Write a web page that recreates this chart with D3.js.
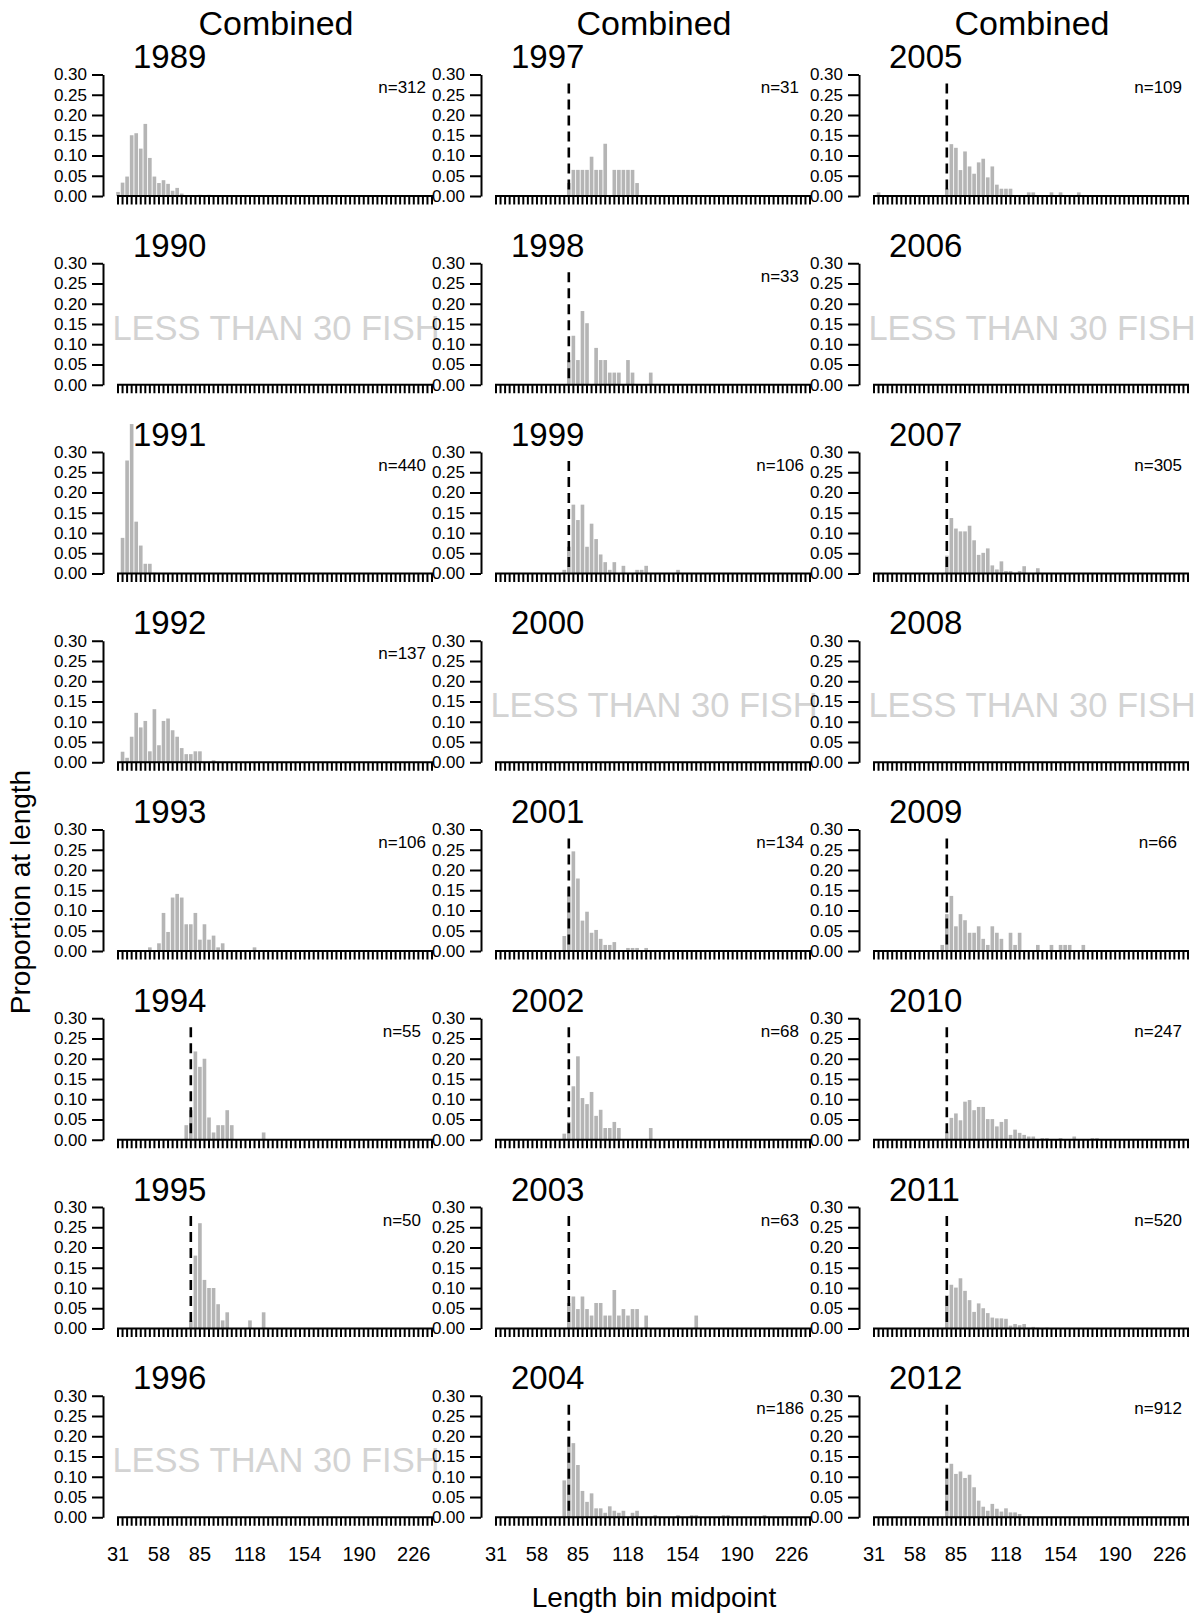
<!DOCTYPE html>
<html><head><meta charset="utf-8">
<script src="https://cdn.jsdelivr.net/npm/d3@7"></script>
<style>body{margin:0;background:#fff} svg{display:block}</style>
</head><body>
<svg id="c" width="1203" height="1619"></svg>
<script>
// ---------- DATA ----------
const bins = [31,34,37,40,43,46,49,52,55,58,61,64,67,70,73,76,79,82,85,88,91,94,97,100,103,106,109,112,115,118,
  121,124,127,130,133,136,139,142,145,148,151,154,157,160,163,166,169,172,175,178,181,184,187,190,193,196,199,202,205,208,
  211,214,217,220,223,226,229,232,235,238];
const xTickLabels = [31,58,85,118,154,190,226];
const yTicks = [0,0.05,0.10,0.15,0.20,0.25,0.30];
const years = [1989,1990,1991,1992,1993,1994,1995,1996,1997,1998,1999,2000,2001,2002,2003,2004,2005,2006,2007,2008,2009,2010,2011,2012];
const sampleN = [312,null,440,137,106,55,50,null,31,33,106,null,134,68,63,186,109,null,305,null,66,247,520,912];
const dashedYears = [1994,1995,1997,1998,1999,2001,2002,2003,2004,2005,2007,2009,2010,2011,2012];
const refLength = 79;
const columnTitle = "Combined";
const lessText = "LESS THAN 30 FISH";

// proportions by bin (index 0 = 31), trailing zeros omitted
const p1989 = [0.010,0.033,0.048,0.150,0.155,0.117,0.178,0.094,0.048,0.032, 0.039,0.030,0.013,0.020,0.006,0,0,0,0.003,0, 0.003];
const p1991 = [0,0.088,0.279,0.369,0.128,0.069,0.024,0.024,0.002];
const p1992 = [0,0.026,0.011,0.063,0.122,0.086,0.102,0.027,0.131,0.042, 0.102,0.108,0.079,0.063,0.035,0.020,0.020,0.027,0.027,0, 0,0.005];
const p1993 = [0,0,0,0,0,0,0,0.009,0,0.019, 0.094,0.047,0.132,0.141,0.132,0.066,0.066,0.094,0.028,0.066, 0.028,0.038,0.009,0.019,0,0,0,0,0,0, 0.009];
const p1994 = [0,0,0,0,0,0,0,0,0,0, 0,0,0,0,0,0.036,0.073,0.218,0.180,0.200, 0.055,0.018,0.036,0.036,0.073,0.036,0,0,0,0, 0,0,0.018];
const p1995 = [0,0,0,0,0,0,0,0,0,0, 0,0,0,0,0,0,0.020,0.180,0.260,0.120, 0.100,0.100,0.060,0.020,0.040,0,0,0,0,0.020, 0,0,0.040];
const p1997 = [0,0,0,0,0,0,0,0,0,0, 0,0,0,0,0,0,0.032,0.0645,0.0645,0.0645, 0.0645,0.097,0.0645,0.0645,0.129,0,0.0645,0.0645,0.0645,0.0645, 0.0645,0.032];
const p1998 = [0,0,0,0,0,0,0,0,0,0, 0,0,0,0,0,0,0.061,0.121,0.061,0.182, 0.152,0,0.091,0.061,0.061,0.030,0.030,0.030,0,0.061, 0.030,0,0,0,0.030];
const p1999 = [0,0,0,0,0,0,0,0,0,0, 0,0,0,0,0,0.009,0.066,0.170,0.132,0.170, 0.066,0.123,0.085,0.047,0.028,0.009,0.028,0,0.019,0, 0,0.009,0.009,0.019,0,0,0,0,0,0, 0.009];
const p2001 = [0,0,0,0,0,0,0,0,0,0, 0,0,0,0,0,0.037,0.157,0.246,0.179,0.075, 0.097,0.045,0.052,0.030,0.015,0.015,0.022,0,0,0.0075, 0.0075,0.0075,0,0.0075];
const p2002 = [0,0,0,0,0,0,0,0,0,0, 0,0,0,0,0,0.015,0.044,0.132,0.206,0.103, 0.088,0.118,0.059,0.074,0.029,0.029,0.044,0.029,0,0, 0,0,0,0,0.029];
const p2003 = [0,0,0,0,0,0,0,0,0,0, 0,0,0,0,0,0,0.063,0.079,0.048,0.079, 0.048,0.032,0.063,0.063,0.032,0.032,0.095,0.032,0.048,0.032, 0.048,0.048,0,0.032,0,0,0,0,0,0, 0,0,0,0,0.032];
const p2004 = [0,0,0,0,0,0,0,0,0,0, 0,0,0,0,0,0.091,0.199,0.183,0.129,0.065, 0.038,0.059,0.022,0.022,0.011,0.027,0.016,0.011,0.016,0, 0.011,0.016,0,0,0,0.005,0,0,0,0, 0.005,0,0,0.005,0.005,0,0,0,0,0, 0.005,0.005,0,0,0,0,0,0,0,0.005];
const p2005 = [0,0.009,0,0,0,0,0,0,0,0, 0,0,0,0,0,0,0.018,0.128,0.119,0.064, 0.110,0.073,0.055,0.083,0.092,0.046,0.073,0.028,0.018,0.018, 0.018,0,0,0,0.009,0.009,0,0,0,0.009, 0,0.009,0,0,0,0.009];
const p2007 = [0,0,0,0,0,0,0,0,0,0, 0,0,0,0,0,0,0.044,0.137,0.111,0.104, 0.104,0.118,0.082,0.046,0.051,0.062,0.020,0.010,0.030,0.006, 0.006,0,0.006,0.018,0,0,0.013];
const p2009 = [0,0,0,0,0,0,0,0,0,0, 0,0,0,0,0,0.015,0.091,0.136,0.061,0.091, 0.076,0.045,0.045,0.061,0.030,0.015,0.061,0.045,0.030,0, 0.045,0.015,0.045,0,0,0,0.015,0,0,0.015, 0,0.015,0.015,0.015,0,0,0.015];
const p2010 = [0,0,0,0,0,0,0,0,0,0, 0,0,0,0,0,0,0.020,0.054,0.065,0.048, 0.094,0.098,0.073,0.081,0.081,0.051,0.051,0.033,0.044,0.051, 0.012,0.025,0.017,0.012,0.008,0.008,0,0.004,0.004,0, 0,0.004,0,0,0.008,0,0,0,0.004,0.004];
const p2011 = [0,0,0,0,0,0,0,0,0,0, 0,0,0,0,0,0,0.082,0.108,0.101,0.124, 0.093,0.070,0.041,0.062,0.050,0.038,0.027,0.025,0.025,0.024, 0.007,0.011,0.008,0.011,0.002,0.004,0.002,0,0.002];
const p2012 = [0,0,0,0,0,0,0,0,0,0, 0,0,0,0,0,0,0.122,0.132,0.107,0.113, 0.097,0.105,0.074,0.041,0.026,0.016,0.033,0.021,0.014,0.022, 0.012,0.012,0.008,0.002,0.003,0.002,0.001,0.001,0.001,0.001, 0.001];

const proportions = [p1989,null,p1991,p1992,p1993,p1994,p1995,null,p1997,p1998,p1999,null,p2001,p2002,p2003,p2004,p2005,null,p2007,null,p2009,p2010,p2011,p2012];

// ---------- DRAW ----------
const FONT = "'Liberation Sans', Arial, Helvetica, sans-serif";
const svg = d3.select("#c");
const COLW = 378, ROWH = 188.75, BASE0 = 196, NROW = 8;

for (let c = 0; c < 3; c++) {
  svg.append("text").attr("x", c*COLW + 276).attr("y", 35)
    .attr("text-anchor","middle").attr("font-family",FONT).attr("font-size",34)
    .text(columnTitle);
}

years.forEach((yr, i) => {
  const col = Math.floor(i / NROW), row = i % NROW;
  const ox = col * COLW, base = BASE0 + row * ROWH;
  const x = d3.scaleBand().domain(bins).range([ox + 115.725, ox + 434.275]).paddingInner(0.2).paddingOuter(0.1);
  const y = d3.scaleLinear().domain([0, 0.3]).range([base, base - 121.5]);
  const g = svg.append("g");
  const vals = proportions[i];

  if (vals) {
    const data = bins.map((b, k) => ({ b, v: vals[k] || 0 })).filter(d => d.v > 0);
    g.append("g").selectAll("rect").data(data).join("rect")
      .attr("x", d => x(d.b)).attr("width", x.bandwidth())
      .attr("y", d => y(d.v)).attr("height", d => y(0) - y(d.v))
      .attr("fill", "#b5b5b5");
  } else {
    g.append("text").attr("x", ox + 276).attr("y", base - 45)
      .attr("text-anchor","middle").attr("font-family",FONT).attr("font-size",34.5)
      .attr("fill","#d3d3d3").text(lessText);
  }

  if (dashedYears.includes(yr)) {
    const xd = x(refLength) + x.bandwidth() / 2;
    g.append("path").attr("d", `M${xd},${y(0.278)}L${xd},${y(0)}`)
      .attr("stroke","#000").attr("stroke-width",2.6).attr("stroke-dasharray","10,6").attr("fill","none");
  }

  // y axis
  const ya = g.append("g").attr("transform", `translate(${ox + 103},0)`)
    .call(d3.axisLeft(y).tickValues(yTicks).tickFormat(d3.format(".2f")).tickSize(11).tickSizeOuter(0).tickPadding(5));
  ya.attr("font-family", FONT).attr("font-size", 17);
  ya.select(".domain").attr("stroke-width", 2);
  ya.selectAll(".tick line").attr("stroke-width", 2);
  ya.selectAll(".tick text").attr("fill", "#000");

  // x axis
  const last = row === NROW - 1;
  const xa = g.append("g").attr("transform", `translate(0,${base})`)
    .call(d3.axisBottom(x).tickValues(bins).tickSize(8.5).tickPadding(21.5)
      .tickFormat(d => (last && xTickLabels.includes(d)) ? String(d) : ""));
  xa.attr("font-family", FONT).attr("font-size", 20);
  xa.select(".domain").remove();
  xa.selectAll(".tick line").attr("stroke-width", 2);
  xa.selectAll(".tick text").attr("fill", "#000");
  const x0 = x(bins[0]) + x.bandwidth() / 2, x1 = x(bins[bins.length - 1]) + x.bandwidth() / 2;
  g.append("line").attr("x1", x0 - 1).attr("x2", x1 + 1).attr("y1", base).attr("y2", base)
    .attr("stroke","#000").attr("stroke-width", 2.2);

  // year label
  g.append("text").attr("x", ox + 133).attr("y", base - 128)
    .attr("font-family",FONT).attr("font-size",33).text(String(yr));

  // n label
  const n = sampleN[i];
  if (n != null) {
    const digits = String(n).length;
    g.append("text").attr("x", ox + 426 - (3 - digits) * 5).attr("y", base - 103)
      .attr("text-anchor","end").attr("font-family",FONT).attr("font-size",17)
      .text("n=" + n);
  }
});

// axis titles
svg.append("text").attr("x", 654).attr("y", 1607).attr("text-anchor","middle")
  .attr("font-family",FONT).attr("font-size",28).text("Length bin midpoint");
svg.append("text").attr("transform","translate(30,892) rotate(-90)").attr("text-anchor","middle")
  .attr("font-family",FONT).attr("font-size",28).text("Proportion at length");
</script>
</body></html>
